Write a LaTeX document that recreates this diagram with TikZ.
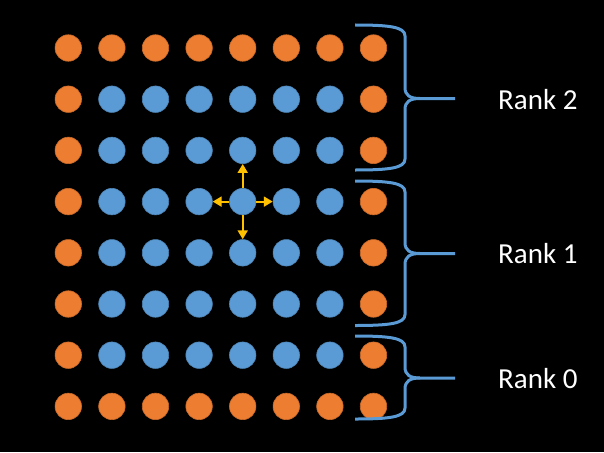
\documentclass[tikz,border=0pt]{standalone}
\usepackage{fontspec}
\setmainfont{Carlito}
\usetikzlibrary{arrows.meta}
\definecolor{dorange}{HTML}{ED7D31}
\definecolor{dblue}{HTML}{5B9BD5}
\definecolor{dgold}{HTML}{FFC000}
\newcommand\rankbrace[3]{%
  \draw[brace] (355,#1) .. controls (390,#1) and (405,{#1+2}) .. (405,{#1+11})
    -- (405,{#2-11}) .. controls (405,{#2-3}) and (410,#2) .. (420,#2) -- (455,#2);
  \draw[brace] (420,#2) .. controls (410,#2) and (405,{#2+3}) .. (405,{#2+11})
    -- (405,{#3-11}) .. controls (405,{#3-2}) and (390,#3) .. (355,#3);
}
\begin{document}
\begin{tikzpicture}[x=1pt,y=-1pt,
  dot/.style={circle,minimum size=26.5pt,inner sep=0pt,line width=0.6pt},
  brace/.style={draw=dblue,line width=3pt},
  nb/.style={-{Triangle[length=9pt,width=10pt]},draw=dgold,fill=dgold,line width=2pt},
  lbl/.style={text=white,font=\fontsize{29}{34}\selectfont,anchor=west,inner sep=0pt}]
\fill[black] (0,0) rectangle (604,452);
\useasboundingbox (0,0) rectangle (604,452);
\foreach \r in {1,...,8}{
  \foreach \c in {1,...,8}{
    \def\col{dblue}
    \ifnum\r=1 \def\col{dorange}\fi
    \ifnum\r=8 \def\col{dorange}\fi
    \ifnum\c=1 \def\col{dorange}\fi
    \ifnum\c=8 \def\col{dorange}\fi
    \node[dot,fill=\col,draw=\col!85!black] (d-\r-\c) at ({68.3+43.6*(\c-1)},{48+51.2*(\r-1)}) {};
  }
}
\draw[nb] (d-4-5) -- (d-3-5);
\draw[nb] (d-4-5) -- (d-5-5);
\draw[nb] (d-4-5) -- (d-4-4);
\draw[nb] (d-4-5) -- (d-4-6);
\rankbrace{25}{98.5}{170}
\rankbrace{181}{253.5}{325.5}
\rankbrace{336}{378}{419}
\node[lbl] (r2) at (498,100) {Rank 2};
\node[lbl] (r1) at (498,254) {Rank 1};
\node[lbl] (r0) at (498,379) {Rank 0};
\end{tikzpicture}
\end{document}
